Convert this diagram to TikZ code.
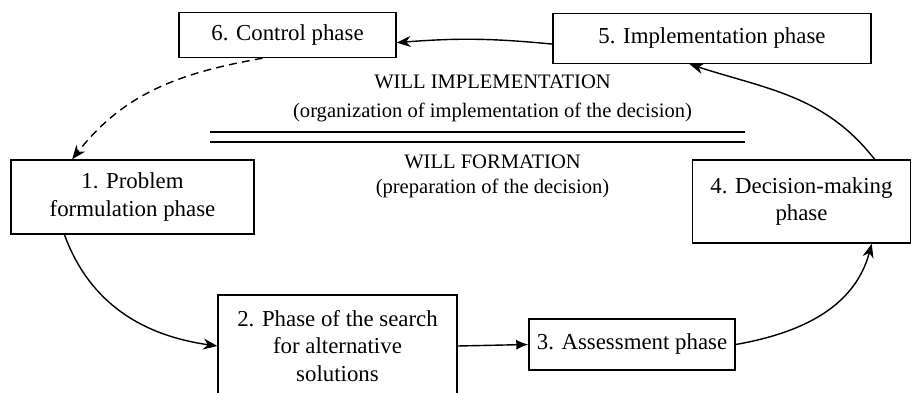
\documentclass[tikz,border=0pt]{standalone}
\usepackage{fontspec}
\setmainfont{Liberation Serif}
\usepackage{tikz}
\usetikzlibrary{arrows.meta}

\begin{document}
\begin{tikzpicture}[>={Stealth[length=2.8mm,width=2.2mm,inset=0.9mm]},
	phase/.style={draw,thick,align=center,inner sep=2pt,font=\fontsize{13}{15.5}\selectfont},
	will/.style={align=center,inner sep=0pt,font=\fontsize{11.7}{14}\selectfont}]
	\useasboundingbox (0,0) rectangle (18.24,7.84);
	% phases
	\node[phase,minimum width=4.34cm,minimum height=0.9cm] (b6) at (5.75,7.14) {6. Control phase};
	\node[phase,minimum width=6.36cm,minimum height=1.0cm] (b5) at (14.24,7.07) {5. Implementation phase};
	\node[phase,minimum width=4.86cm,minimum height=1.48cm] (b1) at (2.65,3.9) {1. Problem\\formulation phase};
	\node[phase,minimum width=4.36cm,minimum height=1.66cm] (b4) at (16.03,3.81) {4. Decision-making\\phase};
	\node[phase,minimum width=4.78cm,minimum height=2.04cm] (b2) at (6.75,0.92) {2. Phase of the search\\for alternative\\solutions};
	\node[phase,minimum width=4.12cm,minimum height=1.02cm] (b3) at (12.64,0.95) {3. Assessment phase};
	% middle texts
	\node[will] (wi) at (9.85,6.2) {WILL IMPLEMENTATION};
	\node[will] (wio) at (9.85,5.6) {(organization of implementation of the decision)};
	\node[will] (wf) at (9.85,4.6) {WILL FORMATION};
	\node[will] (wfp) at (9.85,4.08) {(preparation of the decision)};
	\coordinate (l1) at (4.2,5.2);
	\coordinate (r1) at (14.9,5.2);
	\coordinate (l2) at (4.2,5.0);
	\coordinate (r2) at (14.9,5.0);
	\draw[thick] (l1) -- (r1);
	\draw[thick] (l2) -- (r2);
	% cycle
	\draw[thick,->] (b1.209) to[out=-70,in=172] (b2.west);
	\draw[thick,-{Latex[length=2.4mm,width=2mm]}] (b2.east) -- (b3.west);
	\draw[thick,->] (b3.east) to[out=10,in=-105] (b4.-31);
	\draw[thick,->] (b4.30) to[out=128,in=-18] (b5.229);
	\draw[thick,->] (b5.182) to[bend right=5] (b6.-4);
	\draw[thick,dash pattern=on 4.5pt off 3pt,->] (b6.223) to[out=190,in=52] (b1.148);
\end{tikzpicture}
\end{document}
